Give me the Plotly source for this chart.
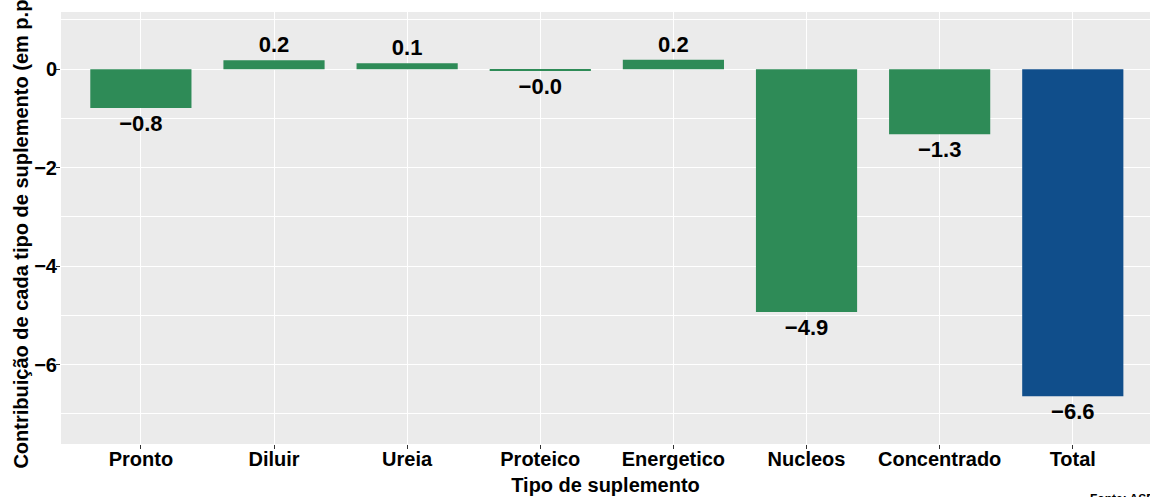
import plotly.graph_objects as go

categories = ["Pronto", "Diluir", "Ureia", "Proteico", "Energetico", "Nucleos", "Concentrado", "Total"]
values = [-0.79, 0.18, 0.12, -0.04, 0.19, -4.93, -1.32, -6.64]
colors = ["#2E8B57"] * 7 + ["#104E8B"]
y_ticks = [-6, -4, -2, 0]
y_minor = [-7, -5, -3, -1, 1]

labels = [f"{v:.1f}".replace("-", "\u2212") for v in values]

FONT = "Liberation Sans, Arial, sans-serif"

fig = go.Figure(
    go.Bar(
        x=categories,
        y=values,
        marker=dict(color=colors, line=dict(width=0)),
        width=0.76,
        text=labels,
        textposition="outside",
        textfont=dict(family=FONT, size=22, color="black", weight="bold"),
        cliponaxis=False,
    )
)

fig.update_layout(
    width=1150,
    height=497,
    margin=dict(l=61, r=0, t=12, b=53),
    paper_bgcolor="white",
    plot_bgcolor="#EBEBEB",
    showlegend=False,
    font=dict(family=FONT, color="black"),
    uniformtext=dict(mode=False),
)

fig.update_xaxes(
    range=[-0.6, 7.58],
    automargin=False,
    showgrid=True,
    gridcolor="white",
    gridwidth=1.2,
    ticks="outside",
    ticklen=4,
    tickcolor="#333333",
    ticklabelstandoff=-7,
    tickfont=dict(family=FONT, size=20, color="black", weight="bold"),
    title=dict(text="Tipo de suplemento", font=dict(family=FONT, size=20, color="black", weight="bold"), standoff=8),
    zeroline=False,
    showline=False,
)

fig.update_yaxes(
    range=[-7.61, 1.16],
    automargin=False,
    tickvals=y_ticks,
    showgrid=True,
    gridcolor="white",
    gridwidth=1.2,
    minor=dict(tickvals=y_minor, showgrid=True, gridcolor="white", gridwidth=0.6),
    ticks="outside",
    ticklen=4,
    tickcolor="#333333",
    ticklabelstandoff=-5,
    tickfont=dict(family=FONT, size=20, color="black", weight="bold"),
    title=dict(text="Contribuição de cada tipo de suplemento (em p.p.)",
               font=dict(family=FONT, size=20, color="black", weight="bold"), standoff=0),
    zeroline=False,
    showline=False,
)

fig.add_annotation(
    text="Fonte: ASBRAM",
    xref="paper", yref="paper",
    x=(1088 - 61) / 1089, y=-(490 - 444) / 432,
    xanchor="left", yanchor="top",
    showarrow=False,
    font=dict(family=FONT, size=12, color="black", weight="bold"),
)

fig.write_html(
    "out.html",
    config={"displayModeBar": False},
    post_script="document.body.style.margin='0';document.body.style.overflow='hidden';",
)
